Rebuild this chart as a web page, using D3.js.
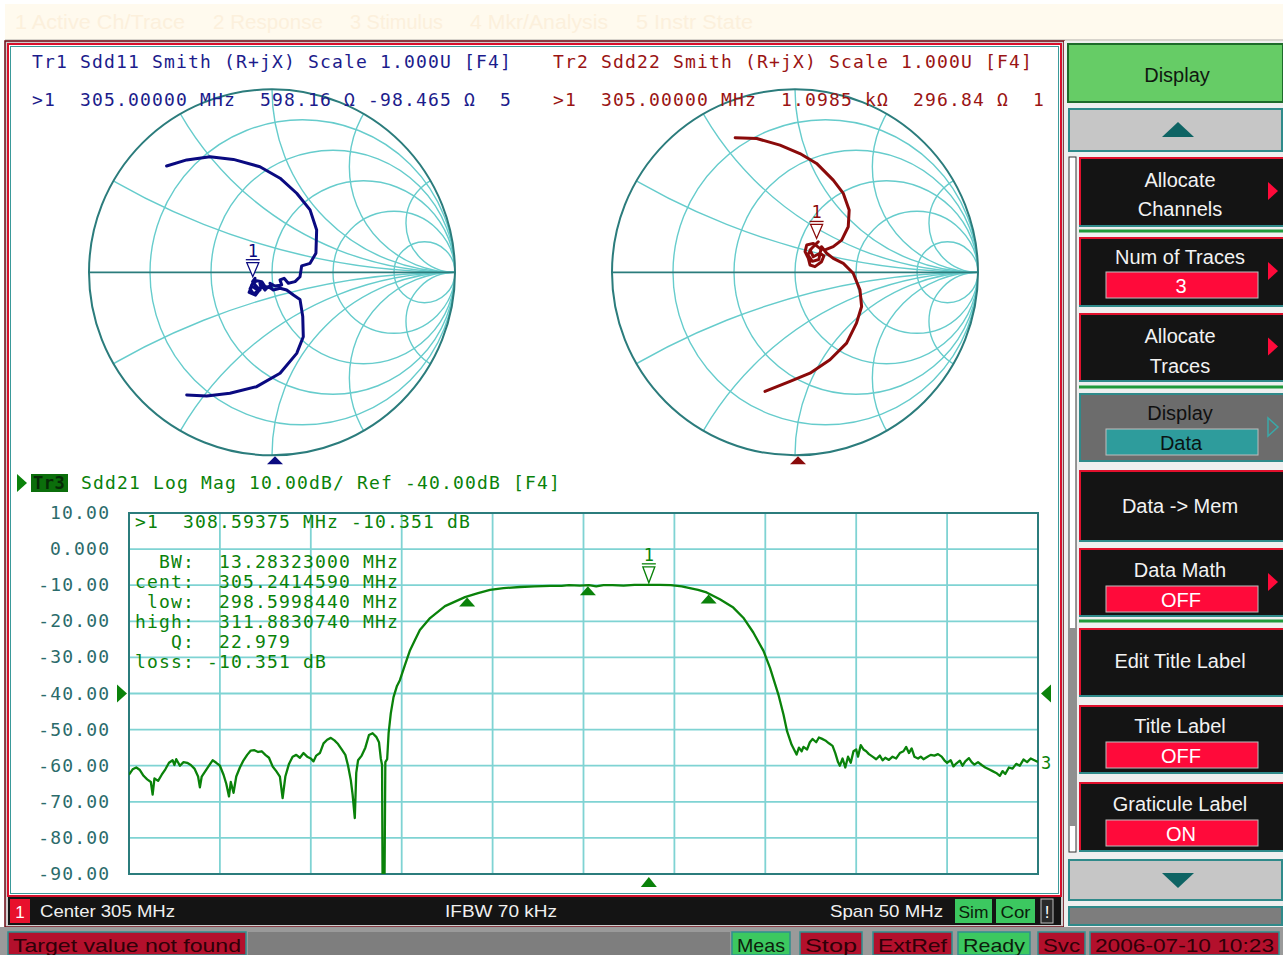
<!DOCTYPE html>
<html><head><meta charset="utf-8">
<script src="https://cdn.jsdelivr.net/npm/d3@7"></script>
<style>
html,body{margin:0;padding:0;background:#fff;overflow:hidden;}
svg{display:block;}
text{white-space:pre;}
</style></head><body>
<svg id="c" width="1283" height="955"></svg>
<script>
// ---------------- DATA ----------------
const menuItems = ["1 Active Ch/Trace", "2 Response", "3 Stimulus", "4 Mkr/Analysis", "5 Instr State"];

// Tr3 Sdd21 log-mag trace (MHz, dB)
const lowStopFreq = [280.0,280.2,280.4,280.6,280.8,281.0,281.2,281.3,281.4,281.6,281.8,282.0,282.2,282.4,282.5,282.6,282.8,283.0,283.2,283.4,283.6,283.8,283.9,284.0,284.2,284.4,284.6,284.8,285.0,285.2,285.35,285.5,285.6,285.75,285.9,286.1,286.3,286.5,286.7,286.9,287.1,287.3,287.5,287.7,287.9,288.1,288.3,288.45,288.6,288.8,289.0,289.2,289.4,289.6,289.8,290.0,290.15,290.3,290.5,290.7,290.9,291.1,291.3,291.5,291.7,291.9,292.05,292.2,292.3,292.42,292.5,292.6,292.8,293.0,293.2,293.4,293.6,293.75,293.85,293.92,293.95,294.05,294.1,294.2,294.28];
const lowStopDb = [-62.5,-61.0,-60.5,-61.2,-62.8,-63.8,-64.5,-68.0,-63.5,-64.2,-62.5,-61.0,-59.2,-58.5,-59.8,-58.2,-60.0,-59.0,-59.2,-59.8,-60.8,-63.0,-66.0,-63.0,-61.5,-60.0,-58.5,-59.2,-60.0,-62.5,-65.0,-68.5,-64.5,-67.5,-63.0,-60.5,-58.5,-57.0,-55.8,-55.7,-56.2,-56.0,-57.0,-57.8,-60.2,-61.5,-63.0,-69.0,-63.0,-59.5,-57.5,-57.0,-57.8,-56.5,-57.5,-58.0,-58.8,-57.2,-56.5,-53.8,-52.8,-52.3,-53.0,-54.0,-55.5,-57.0,-60.0,-64.0,-68.0,-74.5,-62.0,-58.5,-57.2,-55.0,-51.5,-51.0,-52.0,-53.5,-58.0,-59.8,-95,-95,-59.0,-58.2,-51.0];
const passFreq = [294.4,294.55,294.74,294.9,295.18,295.46,295.73,296.0,296.56,297.38,298.48,299.2,299.86,300.6,301.51,302.3,303.16,303.8,304.2,304.8,305.3,305.7,306.1,306.6,307.2,307.8,308.6,309.2,309.8,310.4,310.85,311.3,311.77,312.5,313.24,313.79,314.34,314.9,315.26,315.72,316.0,316.2,316.45];
const passDb = [-45.5,-41.0,-37.9,-36.3,-32.1,-28.0,-25.2,-22.4,-19.1,-15.8,-13.3,-12.2,-11.3,-10.8,-10.5,-10.3,-10.2,-10.2,-10.0,-10.1,-10.0,-10.3,-10.0,-10.0,-10.1,-9.9,-9.9,-9.9,-10.0,-10.3,-10.8,-11.3,-12.0,-13.9,-16.2,-19.0,-23.1,-28.2,-32.9,-40.3,-45.8,-50.5,-54.2];
const highStopFreq = [316.72,316.85,317.0,317.1,317.3,317.45,317.6,317.8,317.95,318.1,318.3,318.5,318.7,318.85,319.0,319.1,319.25,319.4,319.55,319.7,319.85,320.0,320.1,320.25,320.4,320.55,320.7,320.9,321.1,321.3,321.45,321.6,321.8,322.0,322.2,322.4,322.6,322.75,322.9,323.05,323.2,323.4,323.55,323.7,323.9,324.1,324.3,324.5,324.7,324.85,325.0,325.2,325.35,325.5,325.7,325.85,326.0,326.2,326.35,326.5,326.7,326.9,327.1,327.3,327.5,327.7,327.9,328.05,328.2,328.4,328.6,328.8,329.0,329.2,329.4,329.6,329.8,330.0];
const highStopDb = [-56.9,-55.0,-56.0,-54.8,-55.5,-53.5,-52.6,-53.5,-52.2,-52.5,-53.0,-53.8,-54.5,-56.5,-59.0,-60.0,-58.0,-60.5,-57.5,-59.2,-56.0,-55.5,-57.5,-54.3,-55.5,-56.0,-56.8,-57.5,-58.2,-57.2,-58.5,-57.8,-58.4,-57.5,-58.0,-56.5,-56.0,-54.8,-56.5,-55.2,-57.5,-58.0,-57.5,-58.2,-57.6,-57.0,-57.2,-56.8,-57.5,-58.5,-59.2,-58.5,-60.2,-59.4,-58.6,-60.0,-58.8,-57.9,-59.0,-59.7,-59.0,-59.8,-60.5,-61.0,-61.5,-62.0,-62.8,-61.5,-62.3,-60.5,-60.8,-59.5,-60.0,-58.3,-59.0,-58.0,-58.5,-59.0];

const yTicks = [10,0,-10,-20,-30,-40,-50,-60,-70,-80,-90];
const yTickLabels = ["10.00","0.000","-10.00","-20.00","-30.00","-40.00","-50.00","-60.00","-70.00","-80.00","-90.00"];
const xGrid = [280,285,290,295,300,305,310,315,320,325,330];
const refLevel = -40;
const marker1Freq = 308.59375;
const bwMarkerFreqs = [298.599844, 305.241459, 311.883074];
const markerInfo = [">1  308.59375 MHz -10.351 dB"];
const bwLabels = ["  BW:  13.28323000 MHz","cent:  305.2414590 MHz"," low:  298.5998440 MHz","high:  311.8830740 MHz","   Q:  22.979","loss: -10.351 dB"];

// Smith charts (reflection coefficient, re / im)
const tr1Re = [-0.576,-0.466,-0.339,-0.211,-0.066,0.044,0.135,0.208,0.244,0.240,0.208,0.162,0.153,0.126,0.089,0.066,0.044,0.053,0.016,-0.011,-0.002,-0.038,-0.056,-0.084,-0.111,-0.120,-0.093,-0.066,-0.084,-0.106,-0.093,-0.120,-0.100,-0.075,-0.110,-0.125,-0.090,-0.060,-0.066,-0.038,-0.020,0.007,0.044,0.080,0.117,0.153,0.168,0.171,0.135,0.044,-0.084,-0.230,-0.357,-0.466];
const tr1Im = [0.581,0.614,0.632,0.617,0.577,0.514,0.432,0.341,0.231,0.104,0.049,0.035,-0.024,-0.051,-0.060,-0.033,-0.042,-0.069,-0.075,-0.060,-0.087,-0.078,-0.051,-0.046,-0.069,-0.106,-0.115,-0.097,-0.078,-0.051,-0.033,-0.090,-0.120,-0.100,-0.075,-0.110,-0.125,-0.085,-0.060,-0.097,-0.078,-0.097,-0.087,-0.097,-0.124,-0.148,-0.242,-0.352,-0.443,-0.552,-0.625,-0.661,-0.676,-0.670];
const tr2Re = [-0.327,-0.209,-0.082,0.027,0.118,0.209,0.264,0.296,0.291,0.255,0.209,0.164,0.136,0.100,0.064,0.055,0.073,0.082,0.109,0.145,0.158,0.136,0.100,0.082,0.109,0.127,0.090,0.070,0.095,0.130,0.145,0.173,0.209,0.264,0.318,0.355,0.364,0.336,0.282,0.191,0.082,-0.027,-0.164];
const tr2Im = [0.735,0.731,0.695,0.649,0.595,0.504,0.431,0.340,0.249,0.176,0.140,0.122,0.131,0.158,0.149,0.113,0.076,0.040,0.031,0.058,0.089,0.104,0.085,0.122,0.149,0.167,0.130,0.095,0.060,0.070,0.140,0.104,0.076,0.049,-0.005,-0.096,-0.187,-0.278,-0.387,-0.478,-0.551,-0.596,-0.651];
const tr1Marker = [-0.105, -0.024];
const tr2Marker = [0.118, 0.185];
const smithR = [0.2, 0.5, 1, 2, 5];
const smithX = [0.268, 0.577, 1, 1.732, 3.732];

const tr1Header = ["Tr1 Sdd11 Smith (R+jX) Scale 1.000U [F4]", ">1  305.00000 MHz  598.16 Ω -98.465 Ω  5"];
const tr2Header = ["Tr2 Sdd22 Smith (R+jX) Scale 1.000U [F4]", ">1  305.00000 MHz  1.0985 kΩ  296.84 Ω  1"];
const tr3Header = "Sdd21 Log Mag 10.00dB/ Ref -40.00dB [F4]";

const channelStatus = ["Center 305 MHz", "IFBW 70 kHz", "Span 50 MHz"];
const statusItems = [
  {t:"Meas", c:"g"}, {t:"Stop", c:"r"}, {t:"ExtRef", c:"r"}, {t:"Ready", c:"g"}, {t:"Svc", c:"r"}, {t:"2006-07-10 10:23", c:"r"}
];

// ---------------- DRAW ----------------
const svg = d3.select('#c');
const MONO = '"DejaVu Sans Mono", monospace';
const SANS = '"Liberation Sans", Arial, sans-serif';
function mono(g, x, y, str, color, size, anchor) {
  size = size || 18;
  return g.append('text').attr('x', x).attr('y', y)
    .attr('font-family', MONO).attr('font-size', size)
    .attr('letter-spacing', (12 - 0.602 * size).toFixed(3))
    .attr('text-anchor', anchor || 'start')
    .attr('fill', color).text(str);
}
function sans(g, x, y, str, color, size, anchor, len) {
  const t = g.append('text').attr('x', x).attr('y', y)
    .attr('font-family', SANS).attr('font-size', size)
    .attr('text-anchor', anchor || 'middle').attr('fill', color).text(str);
  if (len) t.attr('textLength', len).attr('lengthAdjust', 'spacingAndGlyphs');
  return t;
}

svg.append('rect').attr('width', 1283).attr('height', 955).attr('fill', '#ffffff');

// top menu bar
svg.append('rect').attr('x', 5).attr('y', 4).attr('width', 1278).attr('height', 36).attr('fill', '#fffaee');
const menuX = [15, 213, 350, 470, 636];
const menuW = [170, 110, 93, 138, 117];
menuItems.forEach((m, i) => sans(svg, menuX[i], 29, m, '#fcf0dc', 21, 'start', menuW[i]));
svg.append('rect').attr('x', 5).attr('y', 39).attr('width', 1278).attr('height', 2).attr('fill', '#d8d4cc');

// main window
svg.append('rect').attr('x', 5).attr('y', 41).attr('width', 1059).attr('height', 886).attr('fill', '#cfcfcf').attr('stroke', '#6e0a14').attr('stroke-width', 1.5);
svg.append('rect').attr('x', 8).attr('y', 44).attr('width', 1053).attr('height', 852).attr('fill', '#ffffff').attr('stroke', '#d8102c').attr('stroke-width', 2);
svg.append('rect').attr('x', 10.5).attr('y', 46.5).attr('width', 1048).attr('height', 847).attr('fill', 'none').attr('stroke', '#3a9a9a').attr('stroke-width', 1);

// ---------- Smith charts ----------
function smith(cx, cy, R, re, im, color, mk, dark) {
  const g = svg.append('g');
  const sx = d3.scaleLinear().domain([-1, 1]).range([cx - R, cx + R]);
  const sy = d3.scaleLinear().domain([-1, 1]).range([cy + R, cy - R]);
  const k = sx(1) - sx(0);
  const id = 'clip' + Math.round(cx);
  g.append('clipPath').attr('id', id).append('circle').attr('cx', sx(0)).attr('cy', sy(0)).attr('r', k);
  const grid = g.append('g').attr('clip-path', `url(#${id})`).attr('fill', 'none').attr('stroke', '#66cccc').attr('stroke-width', 1.4);
  smithR.forEach(r => grid.append('circle').attr('cx', sx(r / (1 + r))).attr('cy', sy(0)).attr('r', k / (1 + r)));
  smithX.forEach(x => [1, -1].forEach(s => grid.append('circle').attr('cx', sx(1)).attr('cy', sy(s / x)).attr('r', k / x)));
  g.append('circle').attr('cx', sx(0)).attr('cy', sy(0)).attr('r', k).attr('fill', 'none').attr('stroke', '#2b7c7c').attr('stroke-width', 2);
  g.append('line').attr('x1', sx(-1)).attr('x2', sx(1)).attr('y1', sy(0)).attr('y2', sy(0)).attr('stroke', '#2b7c7c').attr('stroke-width', 1.8);
  const line = d3.line().x(i => sx(re[i])).y(i => sy(im[i])).curve(d3.curveLinear);
  g.append('path').attr('d', line(d3.range(re.length))).attr('fill', 'none').attr('stroke', color).attr('stroke-width', 3).attr('stroke-linejoin', 'round').attr('stroke-linecap', 'round');
  // marker 1
  const mx = sx(mk[0]), my = sy(mk[1]);
  g.append('path').attr('d', `M${mx - 6},${my - 14}L${mx + 6},${my - 14}L${mx},${my}Z`).attr('fill', '#fff').attr('stroke', color).attr('stroke-width', 1.3);
  g.append('line').attr('x1', mx - 7).attr('x2', mx + 7).attr('y1', my - 17).attr('y2', my - 17).attr('stroke', color).attr('stroke-width', 1.3);
  mono(g, mx, my - 20, '1', color, 17, 'middle').attr('letter-spacing', 0);
  // stimulus triangle at bottom
  const bx = sx(0) + 3, by = sy(-1);
  g.append('path').attr('d', `M${bx - 8},${by + 9}L${bx + 8},${by + 9}L${bx},${by + 1}Z`).attr('fill', dark);
}
smith(272, 272.3, 183, tr1Re, tr1Im, '#0a0a80', tr1Marker, '#0a0a80');
smith(795, 272.3, 183, tr2Re, tr2Im, '#8a0a0a', tr2Marker, '#8a0a0a');

mono(svg, 32, 68, tr1Header[0], '#1c1c8c');
mono(svg, 32, 106, tr1Header[1], '#1c1c8c');
mono(svg, 553, 68, tr2Header[0], '#9a1414');
mono(svg, 553, 106, tr2Header[1], '#9a1414');

// ---------- Log mag chart ----------
const P = {l: 129, r: 1038, t: 513, b: 874};
const x = d3.scaleLinear().domain([280, 330]).range([P.l, P.r]);
const y = d3.scaleLinear().domain([-90, 10]).range([P.b, P.t]);
const lg = svg.append('g');
lg.append('clipPath').attr('id', 'plotclip').append('rect').attr('x', P.l).attr('y', P.t).attr('width', P.r - P.l).attr('height', P.b - P.t);
lg.append('g').selectAll('line').data(xGrid).join('line')
  .attr('x1', d => x(d)).attr('x2', d => x(d)).attr('y1', P.t).attr('y2', P.b)
  .attr('stroke', '#7fd3d3').attr('stroke-width', 1.8);
lg.append('g').selectAll('line').data(yTicks).join('line')
  .attr('x1', P.l).attr('x2', P.r).attr('y1', d => y(d)).attr('y2', d => y(d))
  .attr('stroke', '#7fd3d3').attr('stroke-width', 1.8);
lg.append('rect').attr('x', P.l).attr('y', P.t).attr('width', P.r - P.l).attr('height', P.b - P.t).attr('fill', 'none').attr('stroke', '#2b7c7c').attr('stroke-width', 2);

yTicks.forEach((v, i) => mono(lg, 109, y(v) + 6, yTickLabels[i], '#2b6b6b', 18, 'end').attr('letter-spacing', 0).attr('textLength', yTickLabels[i].length * 11.8).attr('lengthAdjust', 'spacing'));

const freqs = lowStopFreq.concat(passFreq, highStopFreq);
const dbs = lowStopDb.concat(passDb, highStopDb);
const GREEN = '#0a820a';
const tline = d3.line().x(i => x(freqs[i])).y(i => y(dbs[i]));
lg.append('path').attr('clip-path', 'url(#plotclip)').attr('d', tline(d3.range(freqs.length)))
  .attr('fill', 'none').attr('stroke', GREEN).attr('stroke-width', 2.3).attr('stroke-linejoin', 'round');
function traceAt(f) {
  const i = d3.bisectLeft(freqs, f);
  const f0 = freqs[i - 1], f1 = freqs[i];
  return dbs[i - 1] + (dbs[i] - dbs[i - 1]) * (f - f0) / (f1 - f0);
}
// bandwidth markers (filled triangles under trace)
bwMarkerFreqs.forEach(f => {
  const mx = x(f), my = y(traceAt(f)) + 1;
  lg.append('path').attr('d', `M${mx - 8},${my + 9}L${mx + 8},${my + 9}L${mx},${my}Z`).attr('fill', GREEN);
});
// marker 1
{
  const mx = x(marker1Freq), my = y(traceAt(marker1Freq)) - 2;
  lg.append('path').attr('d', `M${mx - 6},${my - 16}L${mx + 6},${my - 16}L${mx},${my}Z`).attr('fill', '#fff').attr('stroke', GREEN).attr('stroke-width', 1.3);
  lg.append('line').attr('x1', mx - 7).attr('x2', mx + 7).attr('y1', my - 19).attr('y2', my - 19).attr('stroke', GREEN).attr('stroke-width', 1.3);
  mono(lg, mx, my - 22, '1', GREEN, 17, 'middle').attr('letter-spacing', 0);
  lg.append('path').attr('d', `M${mx - 8},${P.b + 13}L${mx + 8},${P.b + 13}L${mx},${P.b + 3}Z`).attr('fill', GREEN);
}
// reference level triangles
lg.append('path').attr('d', `M${P.l - 12},${y(refLevel) - 9}L${P.l - 12},${y(refLevel) + 9}L${P.l - 2},${y(refLevel)}Z`).attr('fill', GREEN);
lg.append('path').attr('d', `M${P.r + 13},${y(refLevel) - 9}L${P.r + 13},${y(refLevel) + 9}L${P.r + 3},${y(refLevel)}Z`).attr('fill', GREEN);
mono(lg, P.r + 3, y(dbs[dbs.length - 1]) + 7, '3', GREEN, 17).attr('letter-spacing', 0);

// marker text
mono(lg, 135, 528, markerInfo[0], GREEN);
bwLabels.forEach((s, i) => mono(lg, 135, 568 + i * 20, s, GREEN));

// Tr3 header
lg.append('path').attr('d', 'M17,474L17,492L27,483Z').attr('fill', GREEN);
lg.append('rect').attr('x', 31).attr('y', 474).attr('width', 37).attr('height', 18).attr('fill', '#0b6e0b');
mono(lg, 33, 489, 'Tr3', '#062a06', 17).attr('letter-spacing', 0.5).attr('font-weight', 'bold');
mono(lg, 81, 489, tr3Header, GREEN);

// ---------- channel status bar ----------
svg.append('rect').attr('x', 8).attr('y', 897).attr('width', 1053).attr('height', 28).attr('fill', '#141414');
svg.append('rect').attr('x', 10).attr('y', 899).attr('width', 20).attr('height', 24).attr('fill', '#e8102c');
sans(svg, 20, 918, '1', '#ffffff', 17);
sans(svg, 40, 917, channelStatus[0], '#f0f0f0', 17, 'start', 135);
sans(svg, 445, 917, channelStatus[1], '#f0f0f0', 17, 'start', 112);
sans(svg, 830, 917, channelStatus[2], '#f0f0f0', 17, 'start', 113);
svg.append('rect').attr('x', 955).attr('y', 899).attr('width', 37).attr('height', 24).attr('fill', '#3cc860');
sans(svg, 973.5, 918, 'Sim', '#0a200a', 17, 'middle', 30);
svg.append('rect').attr('x', 996).attr('y', 899).attr('width', 39).attr('height', 24).attr('fill', '#3cc860');
sans(svg, 1015.5, 918, 'Cor', '#0a200a', 17, 'middle', 30);
svg.append('rect').attr('x', 1041).attr('y', 899).attr('width', 12).attr('height', 24).attr('fill', '#2a2a2a').attr('stroke', '#bbbbbb').attr('stroke-width', 1);
sans(svg, 1047, 918, '!', '#ffffff', 17);

// ---------- bottom status line ----------
svg.append('rect').attr('x', 0).attr('y', 927).attr('width', 1283).attr('height', 28).attr('fill', '#9a9a9a');
svg.append('rect').attr('x', 248).attr('y', 932).attr('width', 482).attr('height', 23).attr('fill', '#7e7e7e');
function statusBox(x0, w, txt, kind) {
  const fill = kind === 'g' ? '#3cc860' : '#b3102c';
  const tc = kind === 'g' ? '#0c1e0c' : '#2e0008';
  svg.append('rect').attr('x', x0).attr('y', 932).attr('width', w).attr('height', 23).attr('fill', fill).attr('stroke', '#2f8f8f').attr('stroke-width', 1.5);
  sans(svg, x0 + w / 2, 952, txt, tc, 19, 'middle', w - 10);
}
statusBox(8, 238, 'Target value not found', 'r');
const statusX = [732, 800, 873, 958, 1038, 1090];
const statusW = [58, 62, 79, 72, 47, 189];
statusItems.forEach((s, i) => statusBox(statusX[i], statusW[i], s.t, s.c));

// ---------- right softkey panel ----------
const pg = svg.append('g');
pg.append('rect').attr('x', 1064).attr('y', 41).attr('width', 219).attr('height', 886).attr('fill', '#efefef');
pg.append('rect').attr('x', 1068).attr('y', 44).attr('width', 215).attr('height', 58).attr('fill', '#66cc66').attr('stroke', '#1d6b2a').attr('stroke-width', 2);
sans(pg, 1177, 82, 'Display', '#101810', 20);
function greyArrow(y0, h, up) {
  pg.append('rect').attr('x', 1069).attr('y', y0).attr('width', 213).attr('height', h).attr('fill', '#c6c6c6').attr('stroke', '#2f8a8a').attr('stroke-width', 2);
  const cx = 1178, cy = y0 + h / 2;
  const d = up ? `M${cx - 16},${cy + 7}L${cx + 16},${cy + 7}L${cx},${cy - 8}Z` : `M${cx - 16},${cy - 7}L${cx + 16},${cy - 7}L${cx},${cy + 8}Z`;
  pg.append('path').attr('d', d).attr('fill', '#0e6464');
}
greyArrow(109, 42, true);
greyArrow(860, 40, false);
pg.append('rect').attr('x', 1069).attr('y', 907).attr('width', 213).attr('height', 18).attr('fill', '#7d7d7d').attr('stroke', '#2f8a8a').attr('stroke-width', 2);
// scrollbar
pg.append('rect').attr('x', 1069).attr('y', 157).attr('width', 7).attr('height', 695).attr('fill', '#ffffff').attr('stroke', '#333').attr('stroke-width', 1);
pg.append('rect').attr('x', 1069).attr('y', 628).attr('width', 7).attr('height', 198).attr('fill', '#8f8f8f');

function softkey(y0, h, lines, field, arrow, special) {
  const bg = special ? '#6c6c6c' : '#141414';
  pg.append('rect').attr('x', 1079).attr('y', y0).attr('width', 204).attr('height', h).attr('fill', bg);
  pg.append('path').attr('d', `M1080,${y0 + h}L1080,${y0 + 1}L1283,${y0 + 1}`).attr('fill', 'none').attr('stroke', special ? '#2f8a8a' : '#e0102c').attr('stroke-width', 2);
  pg.append('line').attr('x1', 1079).attr('x2', 1283).attr('y1', y0 + h + 1).attr('y2', y0 + h + 1).attr('stroke', '#2f8a8a').attr('stroke-width', 2);
  const tc = special ? '#101010' : '#f2f2f2';
  lines.forEach(l => sans(pg, 1180, l[1], l[0], tc, 20));
  if (field) {
    pg.append('rect').attr('x', 1106).attr('y', field[1]).attr('width', 152).attr('height', 26).attr('fill', special ? '#2e9c9c' : '#ff0a3a').attr('stroke', '#bdbdbd').attr('stroke-width', 1);
    sans(pg, 1181, field[1] + 21, field[0], special ? '#0a1414' : '#ffffff', 20);
  }
  if (arrow) {
    const ay = y0 + (field ? 34 : h / 2);
    pg.append('path').attr('d', `M1268,${ay - 9}L1268,${ay + 9}L1278,${ay}Z`)
      .attr('fill', special ? 'none' : '#ff0a3a').attr('stroke', special ? '#3aa8a8' : 'none').attr('stroke-width', 1.5);
  }
}
softkey(157, 68, [['Allocate', 187], ['Channels', 216]], null, true);
pg.append('line').attr('x1', 1079).attr('x2', 1283).attr('y1', 231).attr('y2', 231).attr('stroke', '#1f9a3a').attr('stroke-width', 3);
softkey(237, 68, [['Num of Traces', 264]], ['3', 272], true);
softkey(313, 67, [['Allocate', 343], ['Traces', 373]], null, true);
pg.append('line').attr('x1', 1079).attr('x2', 1283).attr('y1', 387).attr('y2', 387).attr('stroke', '#1f9a3a').attr('stroke-width', 3);
softkey(393, 67, [['Display', 420]], ['Data', 429], true, true);
softkey(470, 70, [['Data -> Mem', 513]], null, false);
softkey(548, 67, [['Data Math', 577]], ['OFF', 586], true);
pg.append('line').attr('x1', 1079).attr('x2', 1283).attr('y1', 621).attr('y2', 621).attr('stroke', '#1f9a3a').attr('stroke-width', 3);
softkey(628, 67, [['Edit Title Label', 668]], null, false);
softkey(705, 67, [['Title Label', 733]], ['OFF', 742], false);
softkey(782, 68, [['Graticule Label', 811]], ['ON', 820], false);
</script>
</body></html>
